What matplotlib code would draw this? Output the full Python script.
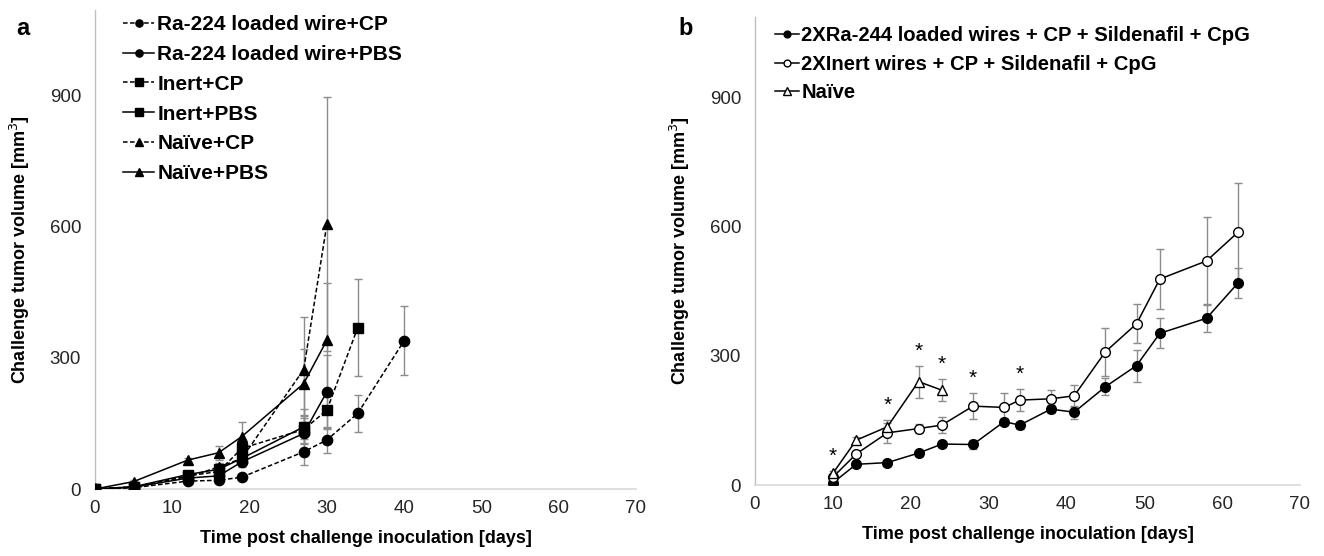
import matplotlib
matplotlib.use("Agg")
import matplotlib.pyplot as plt

plt.rcParams['font.family'] = ['Liberation Sans', 'DejaVu Sans']

# ---- panel a data (mm^3) ----
days_a = [0, 5, 12, 16, 19, 27, 30, 34, 40]

ra_cp = [0, 3, 18, 20, 27, 85, 112, 173, 339]
ra_cp_err = [0, 1, 4, 5, 6, 30, 30, 43, 79]
ra_pbs = [0, 4, 25, 30, 62, 127, 222]
ra_pbs_err = [0, 1, 5, 8, 12, 42, 85]
inert_cp = [0, 4, 30, 40, 93, 136, 180, 369]
inert_cp_err = [0, 1, 5, 10, 15, 30, 40, 110]
inert_pbs = [0, 5, 33, 45, 70, 142]
inert_pbs_err = [0, 1, 6, 10, 14, 40]
naive_cp = [0, 5, 28, 50, 70, 273, 605]
naive_cp_err = [0, 1, 5, 10, 15, 120, 290]
naive_pbs = [0, 17, 66, 83, 120, 241, 340]
naive_pbs_err = [0, 3, 6, 16, 34, 78, 130]

labels_a = ["Ra-224 loaded wire+CP", "Ra-224 loaded wire+PBS", "Inert+CP",
            "Inert+PBS", "Naïve+CP", "Naïve+PBS"]

# ---- panel b data ----
days_b = [10, 13, 17, 21, 24, 28, 32, 34, 38, 41, 45, 49, 52, 58, 62]
ra_b = [5, 48, 52, 74, 95, 94, 147, 139, 176, 169, 228, 277, 352, 387, 468]
ra_b_err = [5, 6, 5, 6, 6, 10, 8, 8, 10, 15, 20, 37, 35, 33, 35]
inert_b = [18, 72, 121, 131, 139, 183, 180, 197, 200, 207, 309, 374, 478, 520, 586]
inert_b_err = [6, 8, 24, 10, 18, 30, 33, 26, 20, 25, 55, 45, 70, 103, 114]
naive_b = [27, 104, 135, 240, 220]
naive_b_err = [5, 8, 16, 37, 25]
star_days = [10, 17, 21, 24, 28, 34]

labels_b = ["2XRa-244 loaded wires + CP + Sildenafil + CpG",
            "2XInert wires + CP + Sildenafil + CpG", "Naïve"]

W, H = 1324, 556
fig = plt.figure(figsize=(W / 100, H / 100), dpi=100)

ax_a = fig.add_axes([95 / W, 1 - 489 / H, 541 / W, 479 / H])
ax_b = fig.add_axes([755 / W, 1 - 485 / H, 545 / W, 468 / H])

ERR_COLOR = '#8c8c8c'
DASH = (0, (3, 1.6))


def series(ax, x, y, err, marker, ls, mfc='black', ms=7.4):
    ax.errorbar(x, y, yerr=err, fmt='none', ecolor=ERR_COLOR, elinewidth=1,
                capsize=2.8, capthick=1, zorder=2)
    line, = ax.plot(x, y, color='black', linestyle=ls, linewidth=1.1,
                    marker=marker, markersize=ms, markerfacecolor=mfc,
                    markeredgecolor='black', markeredgewidth=1, zorder=3)
    return line


def style_axes(ax, ymax):
    ax.set_xlim(0, 70)
    ax.set_ylim(0, ymax)
    ax.set_xticks(range(0, 71, 10))
    ax.set_yticks([0, 300, 600, 900])
    ax.spines['top'].set_visible(False)
    ax.spines['right'].set_visible(False)
    ax.spines['left'].set_color('#bfbfbf')
    ax.spines['bottom'].set_color('#d9d9d9')
    ax.spines['left'].set_linewidth(1)
    ax.spines['bottom'].set_linewidth(1.2)
    ax.tick_params(length=0, labelsize=13.5, colors='#262626')
    ax.tick_params(axis='x', pad=8)
    ax.tick_params(axis='y', pad=10)
    ax.set_xlabel("Time post challenge inoculation [days]", fontsize=13,
                  fontweight='bold', labelpad=9)
    ax.set_ylabel("Challenge tumor volume [mm$^3$]", fontsize=13,
                  fontweight='bold', labelpad=13)
    for sp in ax.spines.values():
        sp.set_zorder(1)


# panel a
handles_a = [
    series(ax_a, days_a[:len(ra_cp)], ra_cp, ra_cp_err, 'o', DASH),
    series(ax_a, days_a[:len(ra_pbs)], ra_pbs, ra_pbs_err, 'o', '-'),
    series(ax_a, days_a[:len(inert_cp)], inert_cp, inert_cp_err, 's', DASH),
    series(ax_a, days_a[:len(inert_pbs)], inert_pbs, inert_pbs_err, 's', '-'),
    series(ax_a, days_a[:len(naive_cp)], naive_cp, naive_cp_err, '^', DASH),
    series(ax_a, days_a[:len(naive_pbs)], naive_pbs, naive_pbs_err, '^', '-'),
]
style_axes(ax_a, 1095)
fig.legend(handles_a, labels_a, loc='upper left',
           bbox_to_anchor=(123 / W, 1 - 15 / H), frameon=False,
           prop={'size': 15, 'weight': 'bold'}, handlelength=1.5,
           handletextpad=0.15, labelspacing=0.52, borderpad=0,
           borderaxespad=0, markerscale=0.7)

# panel b
handles_b = [
    series(ax_b, days_b, ra_b, ra_b_err, 'o', '-', ms=7),
    series(ax_b, days_b, inert_b, inert_b_err, 'o', '-', mfc='white', ms=7),
    series(ax_b, days_b[:len(naive_b)], naive_b, naive_b_err, '^', '-',
           mfc='white', ms=7.5),
]
style_axes(ax_b, 1086)

# significance stars above the highest error bar at each day
for d in star_days:
    tops = []
    for xs, ys, es in [(days_b, ra_b, ra_b_err), (days_b, inert_b, inert_b_err),
                       (days_b[:len(naive_b)], naive_b, naive_b_err)]:
        if d in xs:
            i = xs.index(d)
            tops.append(ys[i] + es[i])
    ax_b.text(d, max(tops) + 12, '*', ha='center', va='bottom', fontsize=15)

fig.legend(handles_b, labels_b, loc='upper left',
           bbox_to_anchor=(775 / W, 1 - 26 / H), frameon=False,
           prop={'size': 14.6, 'weight': 'bold'}, handlelength=1.2,
           handletextpad=0.1, labelspacing=0.48, borderpad=0,
           borderaxespad=0, markerscale=0.7)

fig.text(16 / W, 1 - 35 / H, 'a', fontsize=17, fontweight='bold')
fig.text(678 / W, 1 - 35 / H, 'b', fontsize=17, fontweight='bold')

fig.savefig('out.png', dpi=100)
